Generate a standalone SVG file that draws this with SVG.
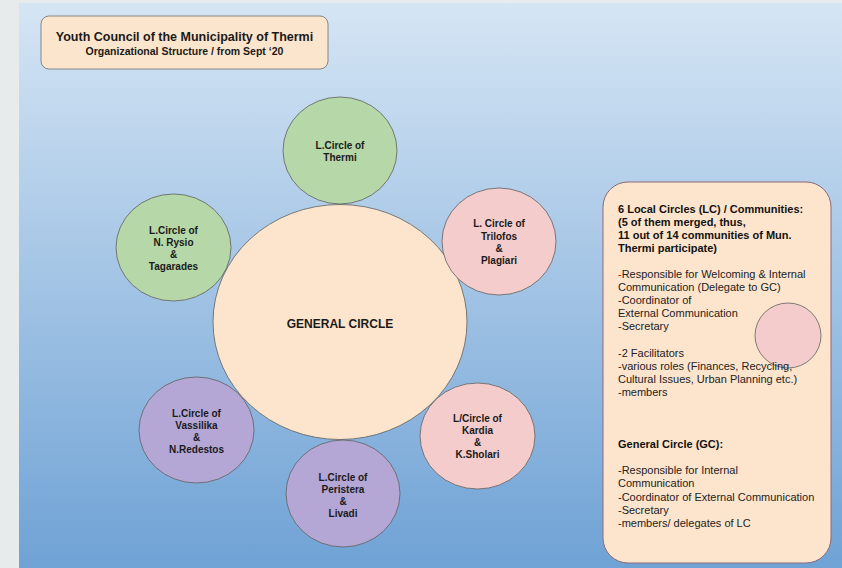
<svg xmlns="http://www.w3.org/2000/svg" width="842" height="568" viewBox="0 0 842 568">
<defs>
<linearGradient id="bg" x1="0" y1="0" x2="0" y2="1">
<stop offset="0" stop-color="#d5e5f4"/>
<stop offset="1" stop-color="#6fa2d5"/>
</linearGradient>
</defs>
<style>
.c{stroke:#5f5f5f;stroke-width:0.8}
.g{fill:#b6d7a8}.p{fill:#f4cccc}.v{fill:#b4a7d6}.o{fill:#fde5cd}
.t{font-family:"Liberation Sans",Arial,sans-serif;font-weight:bold;fill:#1a1a1a;text-anchor:middle}
.s{font-size:10px}
.r{font-family:"Liberation Sans",Arial,sans-serif;font-size:11px;fill:#222}
.b{font-weight:bold;fill:#111}
</style>
<rect x="0" y="0" width="842" height="568" fill="#e8ebec"/>
<rect x="19" y="3" width="823" height="565" fill="url(#bg)"/>

<g id="title">
<rect x="41" y="16" width="287" height="53" rx="8" fill="#fce5cd" stroke="#6e6e6e" stroke-width="0.8"/>
<text class="t" x="184.5" y="41" font-size="12.5">Youth Council of the Municipality of Thermi</text>
<text class="t" x="184.5" y="55" font-size="10.5">Organizational Structure / from Sept ‘20</text>
</g>

<g id="connectors"></g>

<g id="general-circle">
<ellipse class="c o" cx="340" cy="322" rx="127" ry="117.5"/>
<text class="t" x="340" y="328" font-size="12">GENERAL CIRCLE</text>
</g>

<g id="lc-thermi">
<ellipse class="c g" cx="340" cy="150.5" rx="57" ry="53.5"/>
<text class="t s" x="340" y="148.5">L.Circle of</text>
<text class="t s" x="340" y="160.5">Thermi</text>
</g>

<g id="lc-rysio">
<ellipse class="c g" cx="173.5" cy="247.5" rx="57.5" ry="53.5"/>
<text class="t s" x="173.5" y="233.5">L.Circle of</text>
<text class="t s" x="173.5" y="245.5">N. Rysio</text>
<text class="t s" x="173.5" y="257.5">&amp;</text>
<text class="t s" x="173.5" y="269.5">Tagarades</text>
</g>

<g id="lc-trilofos">
<ellipse class="c p" cx="499" cy="241.5" rx="57" ry="53.5"/>
<text class="t s" x="499" y="227">L. Circle of</text>
<text class="t s" x="499" y="239.5">Trilofos</text>
<text class="t s" x="499" y="251.5">&amp;</text>
<text class="t s" x="499" y="263.5">Plagiari</text>
</g>

<g id="lc-vassilika">
<ellipse class="c v" cx="196.5" cy="430" rx="57.5" ry="53"/>
<text class="t s" x="196.5" y="416.5">L.Circle of</text>
<text class="t s" x="196.5" y="428.5">Vassilika</text>
<text class="t s" x="196.5" y="440.5">&amp;</text>
<text class="t s" x="196.5" y="452.5">N.Redestos</text>
</g>

<g id="lc-peristera">
<ellipse class="c v" cx="343" cy="493.5" rx="57" ry="53.5"/>
<text class="t s" x="343" y="480.5">L.Circle of</text>
<text class="t s" x="343" y="492.5">Peristera</text>
<text class="t s" x="343" y="504.5">&amp;</text>
<text class="t s" x="343" y="516.5">Livadi</text>
</g>

<g id="lc-kardia">
<ellipse class="c p" cx="477.5" cy="436" rx="57.5" ry="53"/>
<text class="t s" x="477.5" y="421.5">L/Circle of</text>
<text class="t s" x="477.5" y="433.5">Kardia</text>
<text class="t s" x="477.5" y="445.5">&amp;</text>
<text class="t s" x="477.5" y="457.5">K.Sholari</text>
</g>

<g id="legend">
<rect x="603" y="182" width="228" height="381" rx="25" fill="#fde5cd" stroke="#8e6878" stroke-width="1"/>
<ellipse class="c p" cx="788" cy="335.5" rx="33" ry="32.5" stroke="#6d5a5f"/>
<text class="r b" x="618" y="213">6 Local Circles (LC) / Communities:</text>
<text class="r b" x="618" y="226">(5 of them merged, thus,</text>
<text class="r b" x="618" y="239">11 out of 14 communities of Mun.</text>
<text class="r b" x="618" y="252">Thermi participate)</text>
<text class="r" x="618" y="278"><tspan fill="#cc0000">-</tspan>Responsible for Welcoming &amp; Internal</text>
<text class="r" x="618" y="291">Communication (Delegate to GC)</text>
<text class="r" x="618" y="304">-Coordinator of</text>
<text class="r" x="618" y="317">External Communication</text>
<text class="r" x="618" y="330">-Secretary</text>
<text class="r" x="618" y="357">-2 Facilitators</text>
<text class="r" x="618" y="370">-various roles (Finances, Recycling,</text>
<text class="r" x="618" y="383">Cultural Issues, Urban Planning etc.)</text>
<text class="r" x="618" y="396">-members</text>
<text class="r b" x="618" y="448">General Circle (GC):</text>
<text class="r" x="618" y="474">-Responsible for Internal</text>
<text class="r" x="618" y="487">Communication</text>
<text class="r" x="618" y="501">-Coordinator of External Communication</text>
<text class="r" x="618" y="514">-Secretary</text>
<text class="r" x="618" y="527">-members/ delegates of LC</text>
</g>
</svg>
